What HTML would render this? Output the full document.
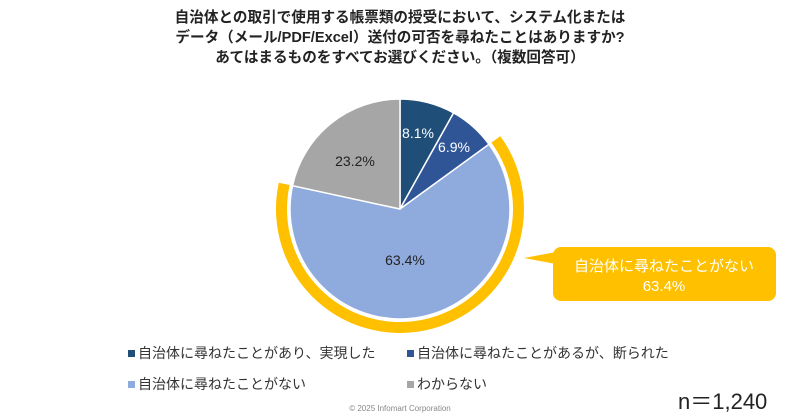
<!DOCTYPE html>
<html><head><meta charset="utf-8"><style>
body{margin:0;width:800px;height:419px;background:#fff;font-family:"Liberation Sans","Noto Sans CJK JP",sans-serif;overflow:hidden;position:relative}
.t{position:absolute;left:0;width:800px;text-align:center;font-weight:bold;font-size:14.6px;color:#222;line-height:20px;top:8px}
.lg{position:absolute;font-size:14px;color:#333;white-space:nowrap}
.lg i{display:inline-block;width:7px;height:7px;margin-right:3px;vertical-align:1px}
</style></head><body>
<div class="t">自治体との取引で使用する帳票類の授受において、システム化または<br>データ（メール/PDF/Excel）送付の可否を尋ねたことはありますか?<br>あてはまるものをすべてお選びください。（複数回答可）</div>
<svg width="800" height="419" style="position:absolute;left:0;top:0">
<g stroke="#fff" stroke-width="1.5">
<path d="M400 209 L400 99 A110 110 0 0 1 453.6 112.9 Z" fill="#1F4E79"/>
<path d="M400 209 L453.6 112.9 A110 110 0 0 1 489 144.3 Z" fill="#2F5597"/>
<path d="M400 209 L489 144.3 A110 110 0 1 1 292.5 185.7 Z" fill="#8FAADC"/>
<path d="M400 209 L292.5 185.7 A110 110 0 0 1 400 99 Z" fill="#A6A6A6"/>
</g>
<path d="M500.3 136.1 A124 124 0 1 1 278.8 182.7 L289.6 185 A113 113 0 1 0 491.4 142.6 Z" fill="#FFC000"/>
<path d="M524 258 L556 252 L556 264 Z" fill="#FFC000"/>
<rect x="553" y="247" width="223" height="54" rx="8" fill="#FFC000"/>
<g font-family="Liberation Sans, sans-serif" font-size="14" text-anchor="middle">
<text x="418" y="138" fill="#fff">8.1%</text>
<text x="454" y="152" fill="#fff">6.9%</text>
<text x="355" y="166" fill="#222">23.2%</text>
<text x="405" y="265" fill="#222">63.4%</text>
</g>
<g font-family="Liberation Sans, Noto Sans CJK JP, sans-serif" font-size="15" fill="#fff" text-anchor="middle">
<text x="664" y="271">自治体に尋ねたことがない</text>
<text x="664" y="291">63.4%</text>
</g>
</svg>
<div class="lg" style="left:128px;top:343px"><i style="background:#1F4E79"></i>自治体に尋ねたことがあり、実現した</div>
<div class="lg" style="left:407px;top:343px"><i style="background:#2F5597"></i>自治体に尋ねたことがあるが、断られた</div>
<div class="lg" style="left:128px;top:374px"><i style="background:#8FAADC"></i>自治体に尋ねたことがない</div>
<div class="lg" style="left:407px;top:374px"><i style="background:#A6A6A6"></i>わからない</div>
<div style="position:absolute;left:678px;top:384px;font-size:22px;color:#222">n＝1,240</div>
<div style="position:absolute;left:0;width:800px;text-align:center;top:404px;font-size:8px;color:#888">© 2025 Infomart Corporation</div>
</body></html>
